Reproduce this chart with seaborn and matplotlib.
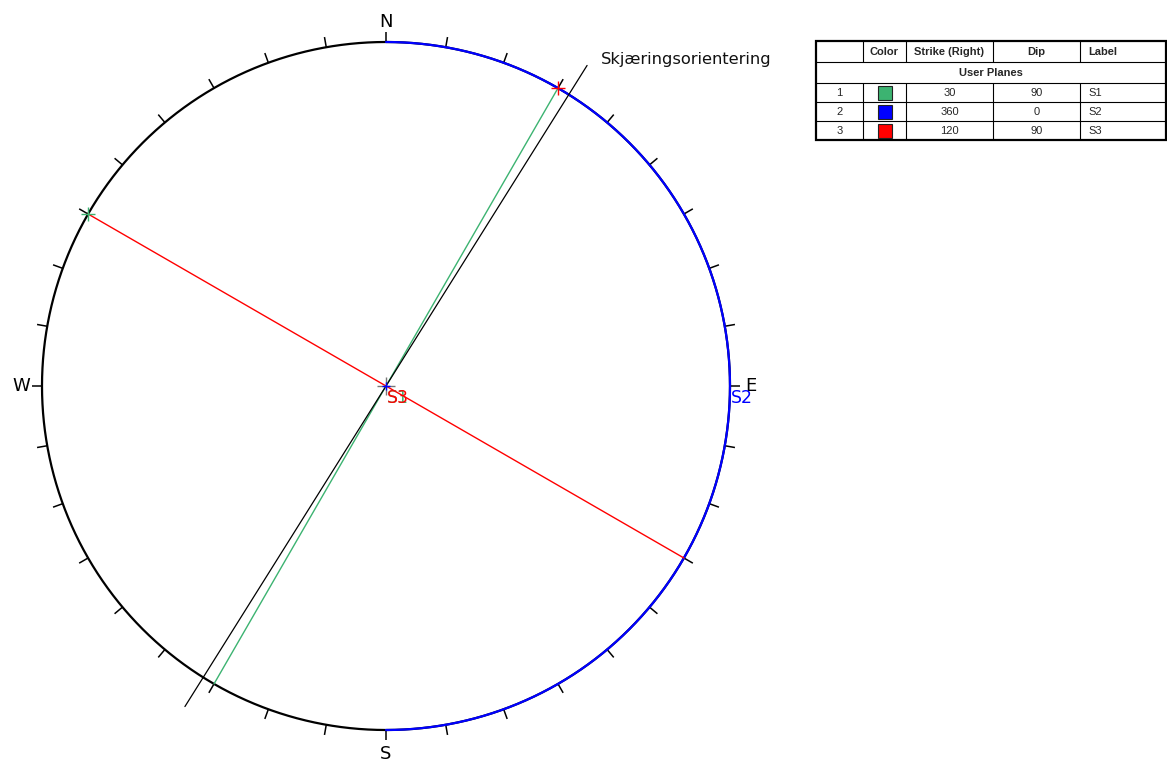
import numpy as np
import pandas as pd
import matplotlib
matplotlib.use("Agg")
import matplotlib.pyplot as plt
import seaborn as sns

# User planes (right-hand-rule strike / dip)
plane_ids = [1, 2, 3]
plane_labels = ["S1", "S2", "S3"]
plane_strikes = [30, 360, 120]
plane_dips = [90, 0, 90]
plane_colors = ["#3cb371", "#0000ff", "#ff0000"]

# Intersection orientation line (trend in degrees)
intersection_name = "Skjæringsorientering"
intersection_trend = 32.1

compass_labels = ["N", "E", "S", "W"]
compass_azimuths = [0, 90, 180, 270]
compass_radii = [1.058, 1.061, 1.070, 1.061]
tick_azimuths = list(range(0, 360, 10))

table_headers = ["", "Color", "Strike (Right)", "Dip", "Label"]
table_group = "User Planes"

sns.set_style("white")
plt.rcParams["font.family"] = ["DejaVu Sans"]


def great_circle(strike, dip, n=361):
    """Equal-area projection of a plane's great circle (unit primitive)."""
    rake = np.radians(np.linspace(0, 180, n))
    s = np.radians(strike)
    d = np.radians(dip)
    e = np.cos(rake) * np.sin(s) + np.sin(rake) * np.sin(s + np.pi / 2) * np.cos(d)
    nn = np.cos(rake) * np.cos(s) + np.sin(rake) * np.cos(s + np.pi / 2) * np.cos(d)
    down = np.clip(np.sin(rake) * np.sin(d), -1, 1)
    return project(np.degrees(np.arctan2(e, nn)), np.degrees(np.arcsin(down)))


def project(trend, plunge):
    trend = np.radians(np.asarray(trend, dtype=float))
    plunge = np.radians(np.asarray(plunge, dtype=float))
    rho = np.sqrt(2) * np.sin((np.pi / 2 - plunge) / 2)
    return rho * np.sin(trend), rho * np.cos(trend)


W, H = 1167, 763
CX, CY, R = 386, 386, 344  # stereonet centre and radius in pixels

fig = plt.figure(figsize=(W / 100, H / 100), dpi=100)
ax = fig.add_axes([0, 0, 1, 1])
ax.set_xlim(-CX / R, (W - CX) / R)
ax.set_ylim(-(H - CY) / R, CY / R)
ax.set_aspect("auto")
ax.axis("off")

# Primitive circle
theta = np.linspace(0, 2 * np.pi, 721)
prim = pd.DataFrame({"x": np.sin(theta), "y": np.cos(theta)})
sns.lineplot(data=prim, x="x", y="y", sort=False, estimator=None,
             color="black", linewidth=1.6, ax=ax, zorder=2)

# Azimuth ticks every 10 degrees
for az in tick_azimuths:
    a = np.radians(az)
    ax.plot([np.sin(a), 1.03 * np.sin(a)], [np.cos(a), 1.03 * np.cos(a)],
            color="black", lw=1.1, solid_capstyle="butt", zorder=2)

for lab, az, rr in zip(compass_labels, compass_azimuths, compass_radii):
    a = np.radians(az)
    ax.text(rr * np.sin(a), rr * np.cos(a), lab, ha="center", va="center",
            fontsize=13, color="black")

# Great circles of the user planes
for lab, st, dp, col in zip(plane_labels, plane_strikes, plane_dips, plane_colors):
    gx, gy = great_circle(st, dp)
    df = pd.DataFrame({"x": gx, "y": gy})
    lw = 1.6 if dp == 0 else 1.0
    sns.lineplot(data=df, x="x", y="y", sort=False, estimator=None,
                 color=col, linewidth=lw, ax=ax, zorder=3)

# Intersection orientation line through the centre
ix, iy = project([intersection_trend, intersection_trend + 180], [0, 0])
line_df = pd.DataFrame({"x": ix * 1.1, "y": iy * 1.1})
sns.lineplot(data=line_df, x="x", y="y", sort=False, estimator=None,
             color="black", linewidth=0.9, ax=ax, zorder=4)
ax.annotate(intersection_name, (ix[0] * 1.1, iy[0] * 1.1), xytext=(10, 4),
            textcoords="offset points", ha="left", va="center",
            fontsize=11.7, color="#111111")

# Centre mark
ax.scatter([0], [0], marker="+", s=150, color="#777777", linewidths=1.0, zorder=5)

# Poles of the planes
for st, dp, col in zip(plane_strikes, plane_dips, plane_colors):
    px, py = project((st - 90) % 360, 90 - dp)
    size = 40 if dp == 0 else 90
    sns.scatterplot(x=[float(px)], y=[float(py)], marker="+", s=size, color=col,
                    linewidth=1.0, ax=ax, zorder=6)

# Plane labels at the mid-point of each great circle
for lab, st, dp, col in zip(plane_labels, plane_strikes, plane_dips, plane_colors):
    gx, gy = great_circle(st, dp, n=3)
    ax.annotate(lab, (gx[1], gy[1]), xytext=(0.5, -2), textcoords="offset points",
                ha="left", va="top", fontsize=12.5, color=col, zorder=7)

# Plane table
col_edges = [816, 863, 906, 993, 1080, 1166]
row_edges = [41, 62, 83, 102, 121, 140]
tab = fig.add_axes([col_edges[0] / W, 1 - row_edges[-1] / H,
                    (col_edges[-1] - col_edges[0]) / W,
                    (row_edges[-1] - row_edges[0]) / H])
tab.set_xlim(col_edges[0], col_edges[-1])
tab.set_ylim(row_edges[-1], row_edges[0])
tab.axis("off")

tfont = ["Liberation Sans", "DejaVu Sans"]
for y in row_edges[1:-1]:
    tab.plot([col_edges[0], col_edges[-1]], [y, y], color="black", lw=0.8, clip_on=False)
for x in col_edges[1:-1]:
    tab.plot([x, x], [row_edges[0], row_edges[1]], color="black", lw=0.8, clip_on=False)
    tab.plot([x, x], [row_edges[2], row_edges[-1]], color="black", lw=0.8, clip_on=False)
tab.add_patch(plt.Rectangle((col_edges[0], row_edges[0]),
                            col_edges[-1] - col_edges[0], row_edges[-1] - row_edges[0],
                            fill=False, edgecolor="black", lw=1.6, clip_on=False))


def cell_x(c, align):
    if align == "left":
        return col_edges[c] + 8
    return (col_edges[c] + col_edges[c + 1]) / 2


aligns = ["center", "center", "center", "center", "left"]
ymid = lambda r: (row_edges[r] + row_edges[r + 1]) / 2 + 0.5
for c, htxt in enumerate(table_headers):
    tab.text(cell_x(c, aligns[c]), ymid(0), htxt, ha=aligns[c], va="center",
             fontsize=8, fontweight="bold", family=tfont)
tab.text((col_edges[0] + col_edges[-1]) / 2, ymid(1), table_group, ha="center",
         va="center", fontsize=8, fontweight="bold", family=tfont)

for i, (pid, st, dp, lab, col) in enumerate(zip(plane_ids, plane_strikes, plane_dips,
                                                plane_labels, plane_colors)):
    r = i + 2
    tab.text(cell_x(0, "center"), ymid(r), str(pid), ha="center", va="center",
             fontsize=8, family=tfont)
    cx = cell_x(1, "center")
    cy = (row_edges[r] + row_edges[r + 1]) / 2
    tab.add_patch(plt.Rectangle((cx - 7, cy - 7), 14, 14, facecolor=col,
                                edgecolor="#222222", lw=0.8, clip_on=False))
    tab.text(cell_x(2, "center"), ymid(r), str(st), ha="center", va="center",
             fontsize=8, family=tfont)
    tab.text(cell_x(3, "center"), ymid(r), str(dp), ha="center", va="center",
             fontsize=8, family=tfont)
    tab.text(cell_x(4, "left"), ymid(r), lab, ha="left", va="center",
             fontsize=8, family=tfont)

fig.savefig("out.png", dpi=100)
